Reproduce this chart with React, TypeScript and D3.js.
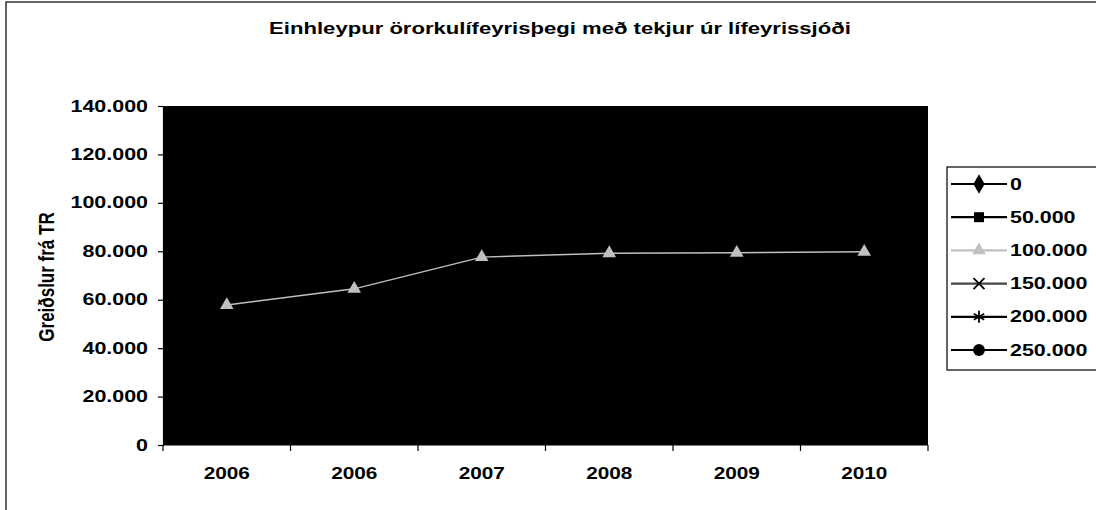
import React, { useRef, useEffect } from "react";
import * as d3 from "d3";

const chart_width = 1096;
const chart_height = 510;

const title = "Einhleypur örorkulífeyrisþegi með tekjur úr lífeyrissjóði";
const y_title = "Greiðslur frá TR";

const categories = ["2006", "2006", "2007", "2008", "2009", "2010"];
const series_names = ["0", "50.000", "100.000", "150.000", "200.000", "250.000"];
const y_ticks = [0, 20000, 40000, 60000, 80000, 100000, 120000, 140000];

// only the 100.000 line shows on the black plot, the others are guesses
const s_0 = [94000, 101000, 117000, 121000, 122000, 123000];
const s_50 = [76000, 83000, 98000, 101000, 101000, 102000];
const s_100 = [57800, 64500, 77600, 79200, 79400, 79800];
const s_150 = [40000, 46000, 57000, 59000, 59000, 60000];
const s_200 = [22000, 28000, 37000, 38000, 38000, 39000];
const s_250 = [6000, 10000, 16000, 17000, 17000, 18000];

const series_values = [s_0, s_50, s_100, s_150, s_200, s_250];
const line_colors = ["#000", "#000", "#c0c0c0", "#000", "#000", "#000"];
const legend_line_colors = ["#000", "#000", "#c0c0c0", "#444", "#000", "#000"];

const plot = { left: 163, right: 928, top: 106, bottom: 445 };
const font = "Arial, 'Liberation Sans', sans-serif";
// the scan is stretched sideways, so text is widened too
const stretch = 1.34;

const fmt = d3
  .formatLocale({ decimal: ",", thousands: ".", grouping: [3], currency: ["", ""] })
  .format(",");

const symbolFor = (i: number) => {
  const types = [
    d3.symbolDiamond,
    d3.symbolSquare,
    d3.symbolTriangle,
    d3.symbolTimes,
    d3.symbolAsterisk,
    d3.symbolCircle,
  ];
  const sizes = [110, 100, 80, 80, 100, 110];
  return d3.symbol().type(types[i]).size(sizes[i])();
};
const filled = [true, true, true, false, false, true];

const App: React.FC = () => {
  const ref = useRef<SVGSVGElement>(null);

  useEffect(() => {
    if (!ref.current) return;
    const svg = d3.select(ref.current);
    svg.selectAll("*").remove();

    const addText = (
      parent: d3.Selection<any, unknown, null, undefined>,
      x: number,
      y: number,
      txt: string,
      anchor: string,
      size: number,
      sx: number
    ) =>
      parent
        .append("text")
        .attr("transform", "translate(" + x + "," + y + ") scale(" + sx + ",1)")
        .attr("text-anchor", anchor)
        .attr("dy", "0.35em")
        .attr("font-family", font)
        .attr("font-size", size)
        .attr("font-weight", "bold")
        .attr("fill", "#000")
        .text(txt);

    svg
      .append("rect")
      .attr("width", chart_width)
      .attr("height", chart_height)
      .attr("fill", "#fff");

    // outer chart border (runs off the right/bottom edge)
    svg
      .append("rect")
      .attr("x", 6)
      .attr("y", 2)
      .attr("width", 1200)
      .attr("height", 600)
      .attr("fill", "none")
      .attr("stroke", "#000")
      .attr("stroke-width", 1.2);

    const x_scale = d3
      .scaleBand<number>()
      .domain(categories.map((_, i) => i))
      .range([plot.left, plot.right]);

    const y_scale = d3
      .scaleLinear()
      .domain([0, 140000])
      .range([plot.bottom, plot.top]);

    svg
      .append("rect")
      .attr("x", plot.left)
      .attr("y", plot.top)
      .attr("width", plot.right - plot.left)
      .attr("height", plot.bottom - plot.top)
      .attr("fill", "#000");

    // y axis
    const yAxis = d3
      .axisLeft(y_scale)
      .tickValues(y_ticks)
      .tickFormat(() => "")
      .tickSize(5);
    const gy = svg
      .append("g")
      .attr("transform", "translate(" + plot.left + ",0)")
      .call(yAxis);
    gy.select(".domain").attr("stroke", "#000").attr("stroke-width", 1.2);
    gy.selectAll(".tick line").attr("stroke", "#000").attr("stroke-width", 1.2);
    y_ticks.forEach((t) => {
      addText(svg, 148, y_scale(t), fmt(t), "end", 16, stretch);
    });

    // x axis, ticks sit between categories
    const gx = svg.append("g").attr("transform", "translate(0," + plot.bottom + ")");
    gx.append("line")
      .attr("x1", plot.left)
      .attr("x2", plot.right)
      .attr("stroke", "#000")
      .attr("stroke-width", 1.2);
    const bounds = categories.map((_, i) => x_scale(i) as number).concat([plot.right]);
    gx.selectAll("line.tick")
      .data(bounds)
      .enter()
      .append("line")
      .attr("class", "tick")
      .attr("x1", (d) => d)
      .attr("x2", (d) => d)
      .attr("y2", 6)
      .attr("stroke", "#000")
      .attr("stroke-width", 1.2);
    categories.forEach((c, i) => {
      addText(gx, (x_scale(i) as number) + x_scale.bandwidth() / 2, 28, c, "middle", 16, 1.3);
    });

    // series
    const line = d3
      .line<number>()
      .x((_, i) => (x_scale(i) as number) + x_scale.bandwidth() / 2)
      .y((d) => y_scale(d));

    const order = [0, 1, 3, 4, 5, 2];
    order.forEach((s) => {
      const g = svg.append("g");
      g.append("path")
        .datum(series_values[s])
        .attr("d", line)
        .attr("fill", "none")
        .attr("stroke", line_colors[s])
        .attr("stroke-width", s === 2 ? 1.4 : 2);
      g.selectAll("path.m")
        .data(series_values[s])
        .enter()
        .append("path")
        .attr("class", "m")
        .attr("d", symbolFor(s))
        .attr(
          "transform",
          (d, i) =>
            "translate(" + ((x_scale(i) as number) + x_scale.bandwidth() / 2) + "," + y_scale(d) + ")"
        )
        .attr("fill", filled[s] ? line_colors[s] : "none")
        .attr("stroke", line_colors[s])
        .attr("stroke-width", filled[s] ? 0 : 1.6);
    });

    // title
    addText(svg, 560, 28, title, "middle", 17, 1.3);

    svg
      .append("text")
      .attr("transform", "translate(46,277) rotate(-90) scale(1,1.3)")
      .attr("text-anchor", "middle")
      .attr("dy", "0.35em")
      .attr("font-family", font)
      .attr("font-size", 17)
      .attr("font-weight", "bold")
      .text(y_title);

    // legend
    const legend = svg.append("g");
    legend
      .append("rect")
      .attr("x", 947)
      .attr("y", 167)
      .attr("width", 200)
      .attr("height", 203)
      .attr("fill", "#fff")
      .attr("stroke", "#000")
      .attr("stroke-width", 1.2);
    series_names.forEach((name, i) => {
      const cy = 184 + i * 33.2;
      legend
        .append("line")
        .attr("x1", 951)
        .attr("x2", 1007)
        .attr("y1", cy)
        .attr("y2", cy)
        .attr("stroke", legend_line_colors[i])
        .attr("stroke-width", 2.2);
      legend
        .append("path")
        .attr("d", symbolFor(i))
        .attr("transform", "translate(979," + cy + ")")
        .attr("fill", filled[i] ? legend_line_colors[i] : "none")
        .attr("stroke", i === 3 ? "#000" : legend_line_colors[i])
        .attr("stroke-width", filled[i] ? 0 : 1.8);
      addText(legend, 1010, cy, name, "start", 16, stretch);
    });
  }, []);

  return (
    <svg
      ref={ref}
      width={chart_width}
      height={chart_height}
      style={{ position: "absolute", left: 0, top: 0, display: "block" }}
    />
  );
};

export default App;
